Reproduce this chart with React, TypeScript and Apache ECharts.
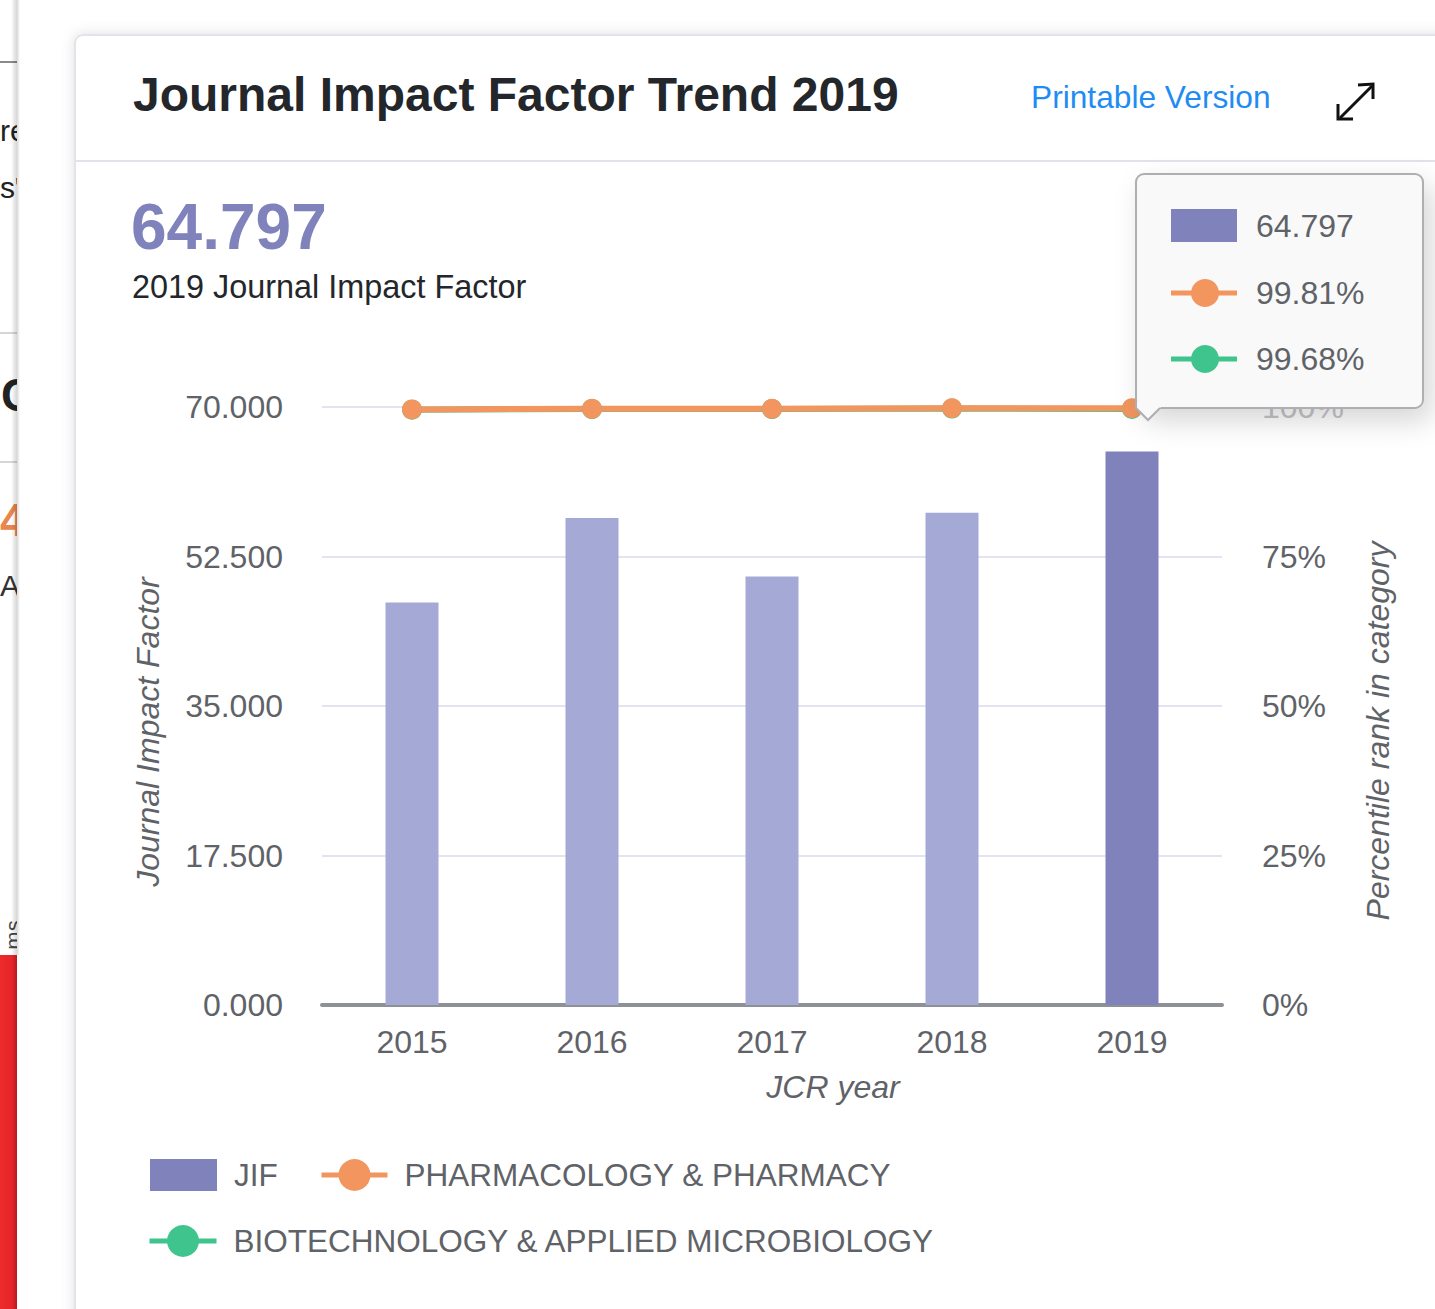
import React, { useEffect, useRef } from "react";
import * as echarts from "echarts";

const years = ["2015", "2016", "2017", "2018", "2019"];
const jifValues = [47.12, 57.0, 50.167, 57.618, 64.797];
const pharmacologyPct = [99.6, 99.7, 99.7, 99.8, 99.81];
const biotechPct = [99.55, 99.66, 99.66, 99.74, 99.68];
const seriesNames = ["JIF", "PHARMACOLOGY & PHARMACY", "BIOTECHNOLOGY & APPLIED MICROBIOLOGY"];
const titleText = "Journal Impact Factor Trend 2019";
const subtitleText = "2019 Journal Impact Factor";

const FONT = '"Liberation Sans", Arial, Helvetica, sans-serif';
const LABEL = "#5f6368";
const BAR_LIGHT = "#a5a9d6";
const BAR_DARK = "#7f82bb";
const ORANGE = "#f2955e";
const GREEN = "#40c48e";

function buildOption() {
  const last = jifValues.length - 1;
  const tipX = 1136;
  const tipY = 174;
  const tipW = 287;
  const tipH = 234;

  const graphic: any[] = [
    // left page fragments
    { type: "text", z: -30, style: { text: "re", x: 0, y: 130, fontSize: 30, fill: "#222", fontFamily: FONT, verticalAlign: "middle" } },
    { type: "text", z: -30, style: { text: 's"', x: 0, y: 187, fontSize: 30, fill: "#222", fontFamily: FONT, verticalAlign: "middle" } },
    { type: "text", z: -30, style: { text: "C", x: 1, y: 395, fontSize: 46, fontWeight: "bold", fill: "#222", fontFamily: FONT, verticalAlign: "middle" } },
    { type: "text", z: -30, style: { text: "4", x: 0, y: 520, fontSize: 46, fontWeight: "bold", fill: "#e9864e", fontFamily: FONT, verticalAlign: "middle" } },
    { type: "text", z: -30, style: { text: "A", x: 0, y: 585, fontSize: 30, fill: "#333", fontFamily: FONT, verticalAlign: "middle" } },
    { type: "text", z: -30, x: 13, y: 935, rotation: Math.PI / 2, style: { text: "ms", x: 0, y: 0, fontSize: 22, fill: "#444", fontFamily: FONT, align: "center", verticalAlign: "middle" } },
    { type: "line", z: -30, shape: { x1: 0, y1: 62, x2: 17, y2: 62 }, style: { stroke: "#8a8a8a", lineWidth: 2 } },
    { type: "line", z: -30, shape: { x1: 0, y1: 333, x2: 17, y2: 333 }, style: { stroke: "#d6d6d6", lineWidth: 2 } },
    { type: "line", z: -30, shape: { x1: 0, y1: 462, x2: 17, y2: 462 }, style: { stroke: "#d6d6d6", lineWidth: 2 } },
    {
      type: "rect", z: -30, shape: { x: 0, y: 955, width: 17, height: 354 },
      style: { fill: new echarts.graphic.LinearGradient(0, 0, 1, 0, [{ offset: 0, color: "#ef2b2b" }, { offset: 0.7, color: "#e4252a" }, { offset: 1, color: "#b81a1e" }]) },
    },
    { type: "rect", z: -29, shape: { x: 17, y: 0, width: 80, height: 1309 }, style: { fill: "#ffffff" } },
    {
      type: "rect", z: -28, shape: { x: 11, y: 0, width: 9, height: 955 },
      style: { fill: new echarts.graphic.LinearGradient(0, 0, 1, 0, [{ offset: 0, color: "rgba(0,0,0,0)" }, { offset: 0.65, color: "rgba(0,0,0,0.16)" }, { offset: 1, color: "rgba(0,0,0,0)" }]) },
    },
    // card
    {
      type: "rect", z: -20, shape: { x: 75, y: 35, width: 1420, height: 1320, r: 8 },
      style: { fill: "#ffffff", stroke: "#e3e3ea", lineWidth: 2, shadowBlur: 14, shadowColor: "rgba(0,0,0,0.12)" },
    },
    { type: "line", z: -19, shape: { x1: 76, y1: 161, x2: 1435, y2: 161 }, style: { stroke: "#e2e2ec", lineWidth: 2 } },
    { type: "text", z: -19, style: { text: titleText, x: 133, y: 94, fontSize: 48, fontWeight: "bold", fill: "#23272b", fontFamily: FONT, verticalAlign: "middle" } },
    { type: "text", z: -19, style: { text: "Printable Version", x: 1031, y: 97, fontSize: 31.7, fill: "#1f8cf3", fontFamily: FONT, verticalAlign: "middle" } },
    { type: "line", z: -19, shape: { x1: 1340, y1: 118, x2: 1372, y2: 86 }, style: { stroke: "#111", lineWidth: 3 } },
    { type: "polyline", z: -19, shape: { points: [[1358, 85], [1373, 84], [1373, 99]] }, style: { stroke: "#111", lineWidth: 3, fill: "none" } },
    { type: "polyline", z: -19, shape: { points: [[1338, 104], [1338, 119], [1353, 119]] }, style: { stroke: "#111", lineWidth: 3, fill: "none" } },
    { type: "text", z: -19, style: { text: jifValues[last].toFixed(3), x: 131, y: 227, fontSize: 64, fontWeight: "bold", fill: BAR_DARK, fontFamily: FONT, verticalAlign: "middle" } },
    { type: "text", z: -19, style: { text: subtitleText, x: 132, y: 287, fontSize: 32.4, fill: "#23272b", fontFamily: FONT, verticalAlign: "middle" } },
    // tooltip
    {
      type: "rect", z: 100, shape: { x: tipX, y: tipY, width: tipW, height: tipH, r: 8 },
      style: { fill: "#f9f9f9", stroke: "#aeaeb3", lineWidth: 2, shadowBlur: 28, shadowOffsetY: 12, shadowOffsetX: 8, shadowColor: "rgba(0,0,0,0.16)" },
    },
    { type: "polygon", z: 101, shape: { points: [[tipX + 1, tipY + tipH - 6], [tipX + 1, tipY + tipH + 1], [tipX + 12, tipY + tipH + 12], [tipX + 25, tipY + tipH - 1], [tipX + 25, tipY + tipH - 6]] }, style: { fill: "#f9f9f9" } },
    { type: "polyline", z: 102, shape: { points: [[tipX, tipY + tipH - 8], [tipX, tipY + tipH], [tipX + 12, tipY + tipH + 12], [tipX + 24, tipY + tipH]] }, style: { stroke: "#aeaeb3", lineWidth: 2, fill: "none" } },
    { type: "rect", z: 102, shape: { x: 1171, y: 209, width: 66, height: 33 }, style: { fill: BAR_DARK } },
    { type: "text", z: 102, style: { text: jifValues[last].toFixed(3), x: 1256, y: 226, fontSize: 32, fill: LABEL, fontFamily: FONT, verticalAlign: "middle" } },
    { type: "line", z: 102, shape: { x1: 1171, y1: 293, x2: 1237, y2: 293 }, style: { stroke: ORANGE, lineWidth: 5 } },
    { type: "circle", z: 103, shape: { cx: 1205, cy: 293, r: 14 }, style: { fill: ORANGE } },
    { type: "text", z: 102, style: { text: pharmacologyPct[last].toFixed(2) + "%", x: 1256, y: 293, fontSize: 32, fill: LABEL, fontFamily: FONT, verticalAlign: "middle" } },
    { type: "line", z: 102, shape: { x1: 1171, y1: 359, x2: 1237, y2: 359 }, style: { stroke: GREEN, lineWidth: 5 } },
    { type: "circle", z: 103, shape: { cx: 1205, cy: 359, r: 14 }, style: { fill: GREEN } },
    { type: "text", z: 102, style: { text: biotechPct[last].toFixed(2) + "%", x: 1256, y: 359, fontSize: 32, fill: LABEL, fontFamily: FONT, verticalAlign: "middle" } },
  ];

  const legendText = { color: LABEL, fontSize: 31.5, fontFamily: FONT, padding: [0, 0, 0, 12] };
  const legendCommon = { padding: 0, selectedMode: false, textStyle: legendText, lineStyle: { width: 5 } };

  return {
    animation: false,
    backgroundColor: "#ffffff",
    textStyle: { fontFamily: FONT },
    grid: { left: 322, right: 213, top: 407, bottom: 304, containLabel: false },
    legend: [
      { ...legendCommon, data: [{ name: seriesNames[0], icon: "rect" }], left: 150, top: 1159, itemWidth: 67, itemHeight: 32 },
      { ...legendCommon, data: [seriesNames[1]], left: 319, top: 1159, itemWidth: 66, itemHeight: 40 },
      { ...legendCommon, data: [seriesNames[2]], left: 147, top: 1225, itemWidth: 67, itemHeight: 40 },
    ],
    xAxis: {
      type: "category",
      data: years,
      axisLine: { lineStyle: { color: "#8d9094", width: 4 } },
      axisTick: { alignWithLabel: true, length: 11, lineStyle: { color: "#6e7175", width: 4 } },
      axisLabel: { color: LABEL, fontSize: 32, margin: 21, fontFamily: FONT },
      name: "JCR year",
      nameLocation: "middle",
      nameGap: 66,
      nameTextStyle: { fontStyle: "italic", color: LABEL, fontSize: 32, fontFamily: FONT, padding: [0, 0, 0, 122] },
    },
    yAxis: [
      {
        type: "value",
        position: "left",
        min: 0,
        max: 70,
        interval: 17.5,
        axisLine: { show: false },
        axisTick: { show: false },
        axisLabel: { color: LABEL, fontSize: 32, margin: 39, fontFamily: FONT, formatter: (v: number) => v.toFixed(3) },
        splitLine: { lineStyle: { color: "#e3e4f1", width: 2 } },
        name: "Journal Impact Factor",
        nameLocation: "middle",
        nameRotate: 90,
        nameGap: 158,
        nameTextStyle: { fontStyle: "italic", color: LABEL, fontSize: 32, fontFamily: FONT, padding: [0, 52, 0, 0] },
      },
      {
        type: "value",
        position: "right",
        min: 0,
        max: 100,
        interval: 25,
        axisLine: { show: false },
        axisTick: { show: false },
        axisLabel: {
          color: (v: any) => (Number(v) === 100 ? "#c4c5c9" : LABEL),
          fontSize: 32,
          margin: 40,
          fontFamily: FONT,
          formatter: (v: number) => v + "%",
        },
        splitLine: { show: false },
        name: "Percentile rank in category",
        nameLocation: "middle",
        nameRotate: 90,
        nameGap: 140,
        nameTextStyle: { fontStyle: "italic", color: LABEL, fontSize: 32, fontFamily: FONT, padding: [0, 50, 0, 0] },
      },
    ],
    series: [
      {
        name: seriesNames[0],
        type: "bar",
        barWidth: 53,
        itemStyle: { color: BAR_DARK },
        data: jifValues.map((v, i) => ({ value: v, itemStyle: { color: i === last ? BAR_DARK : BAR_LIGHT } })),
      },
      {
        name: seriesNames[2],
        type: "line",
        yAxisIndex: 1,
        data: biotechPct,
        symbol: "circle",
        symbolSize: 20,
        itemStyle: { color: GREEN },
        lineStyle: { color: GREEN, width: 6 },
      },
      {
        name: seriesNames[1],
        type: "line",
        yAxisIndex: 1,
        data: pharmacologyPct,
        symbol: "circle",
        symbolSize: 20,
        itemStyle: { color: ORANGE },
        lineStyle: { color: ORANGE, width: 6 },
      },
    ],
    graphic,
  };
}

export default function App() {
  const ref = useRef<HTMLDivElement>(null);
  useEffect(() => {
    document.body.style.margin = "0";
    const chart = echarts.init(ref.current!, null, { renderer: "svg" });
    chart.setOption(buildOption() as any);
    return () => chart.dispose();
  }, []);
  return <div ref={ref} style={{ position: "absolute", left: 0, top: 0, width: 1435, height: 1309, overflow: "hidden" }} />;
}
